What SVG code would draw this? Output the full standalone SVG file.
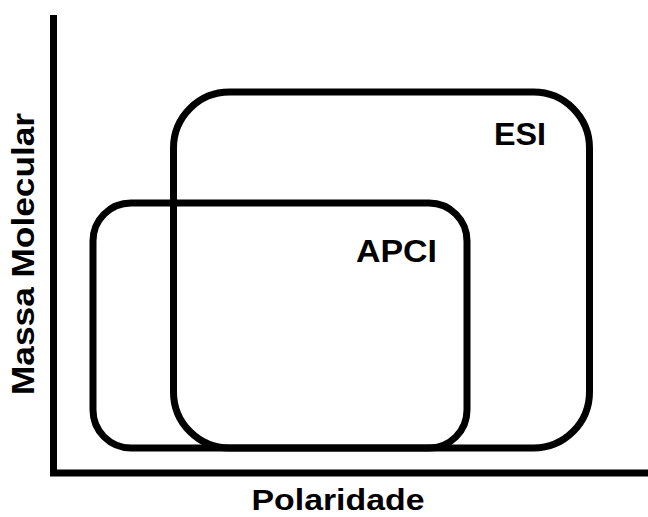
<svg xmlns="http://www.w3.org/2000/svg" width="648" height="517" viewBox="0 0 648 517">
  <style>
    .frame { fill: none; stroke: #000; stroke-width: 7; }
    .axis { fill: none; stroke: #000; stroke-width: 7; stroke-linecap: butt; }
    .lbl { font-family: "Liberation Sans", Arial, sans-serif; font-weight: bold; font-size: 31px; fill: #000; }
  </style>
  <rect width="648" height="517" fill="#fff"/>

  <!-- axes -->
  <g id="connectors">
    <polyline class="axis" points="53.5,15 53.5,473 648,473"/>
  </g>

  <!-- ionisation ranges -->
  <g id="apci">
    <rect class="frame" x="93" y="203" width="374" height="245" rx="38" ry="38"/>
    <text class="lbl" x="396.5" y="262" text-anchor="middle" textLength="81" lengthAdjust="spacingAndGlyphs">APCI</text>
  </g>
  <g id="esi">
    <rect class="frame" x="173.5" y="92" width="416" height="356" rx="56" ry="56"/>
    <text class="lbl" x="520" y="145" text-anchor="middle" textLength="52" lengthAdjust="spacingAndGlyphs">ESI</text>
  </g>

  <!-- axis titles -->
  <g id="x-title">
    <text class="lbl" x="338" y="510" style="font-size:30px" text-anchor="middle" textLength="173" lengthAdjust="spacingAndGlyphs">Polaridade</text>
  </g>
  <g id="y-title">
    <text class="lbl" transform="translate(34,254) rotate(-90)" x="0" y="0" text-anchor="middle" textLength="282" lengthAdjust="spacingAndGlyphs">Massa Molecular</text>
  </g>
</svg>
